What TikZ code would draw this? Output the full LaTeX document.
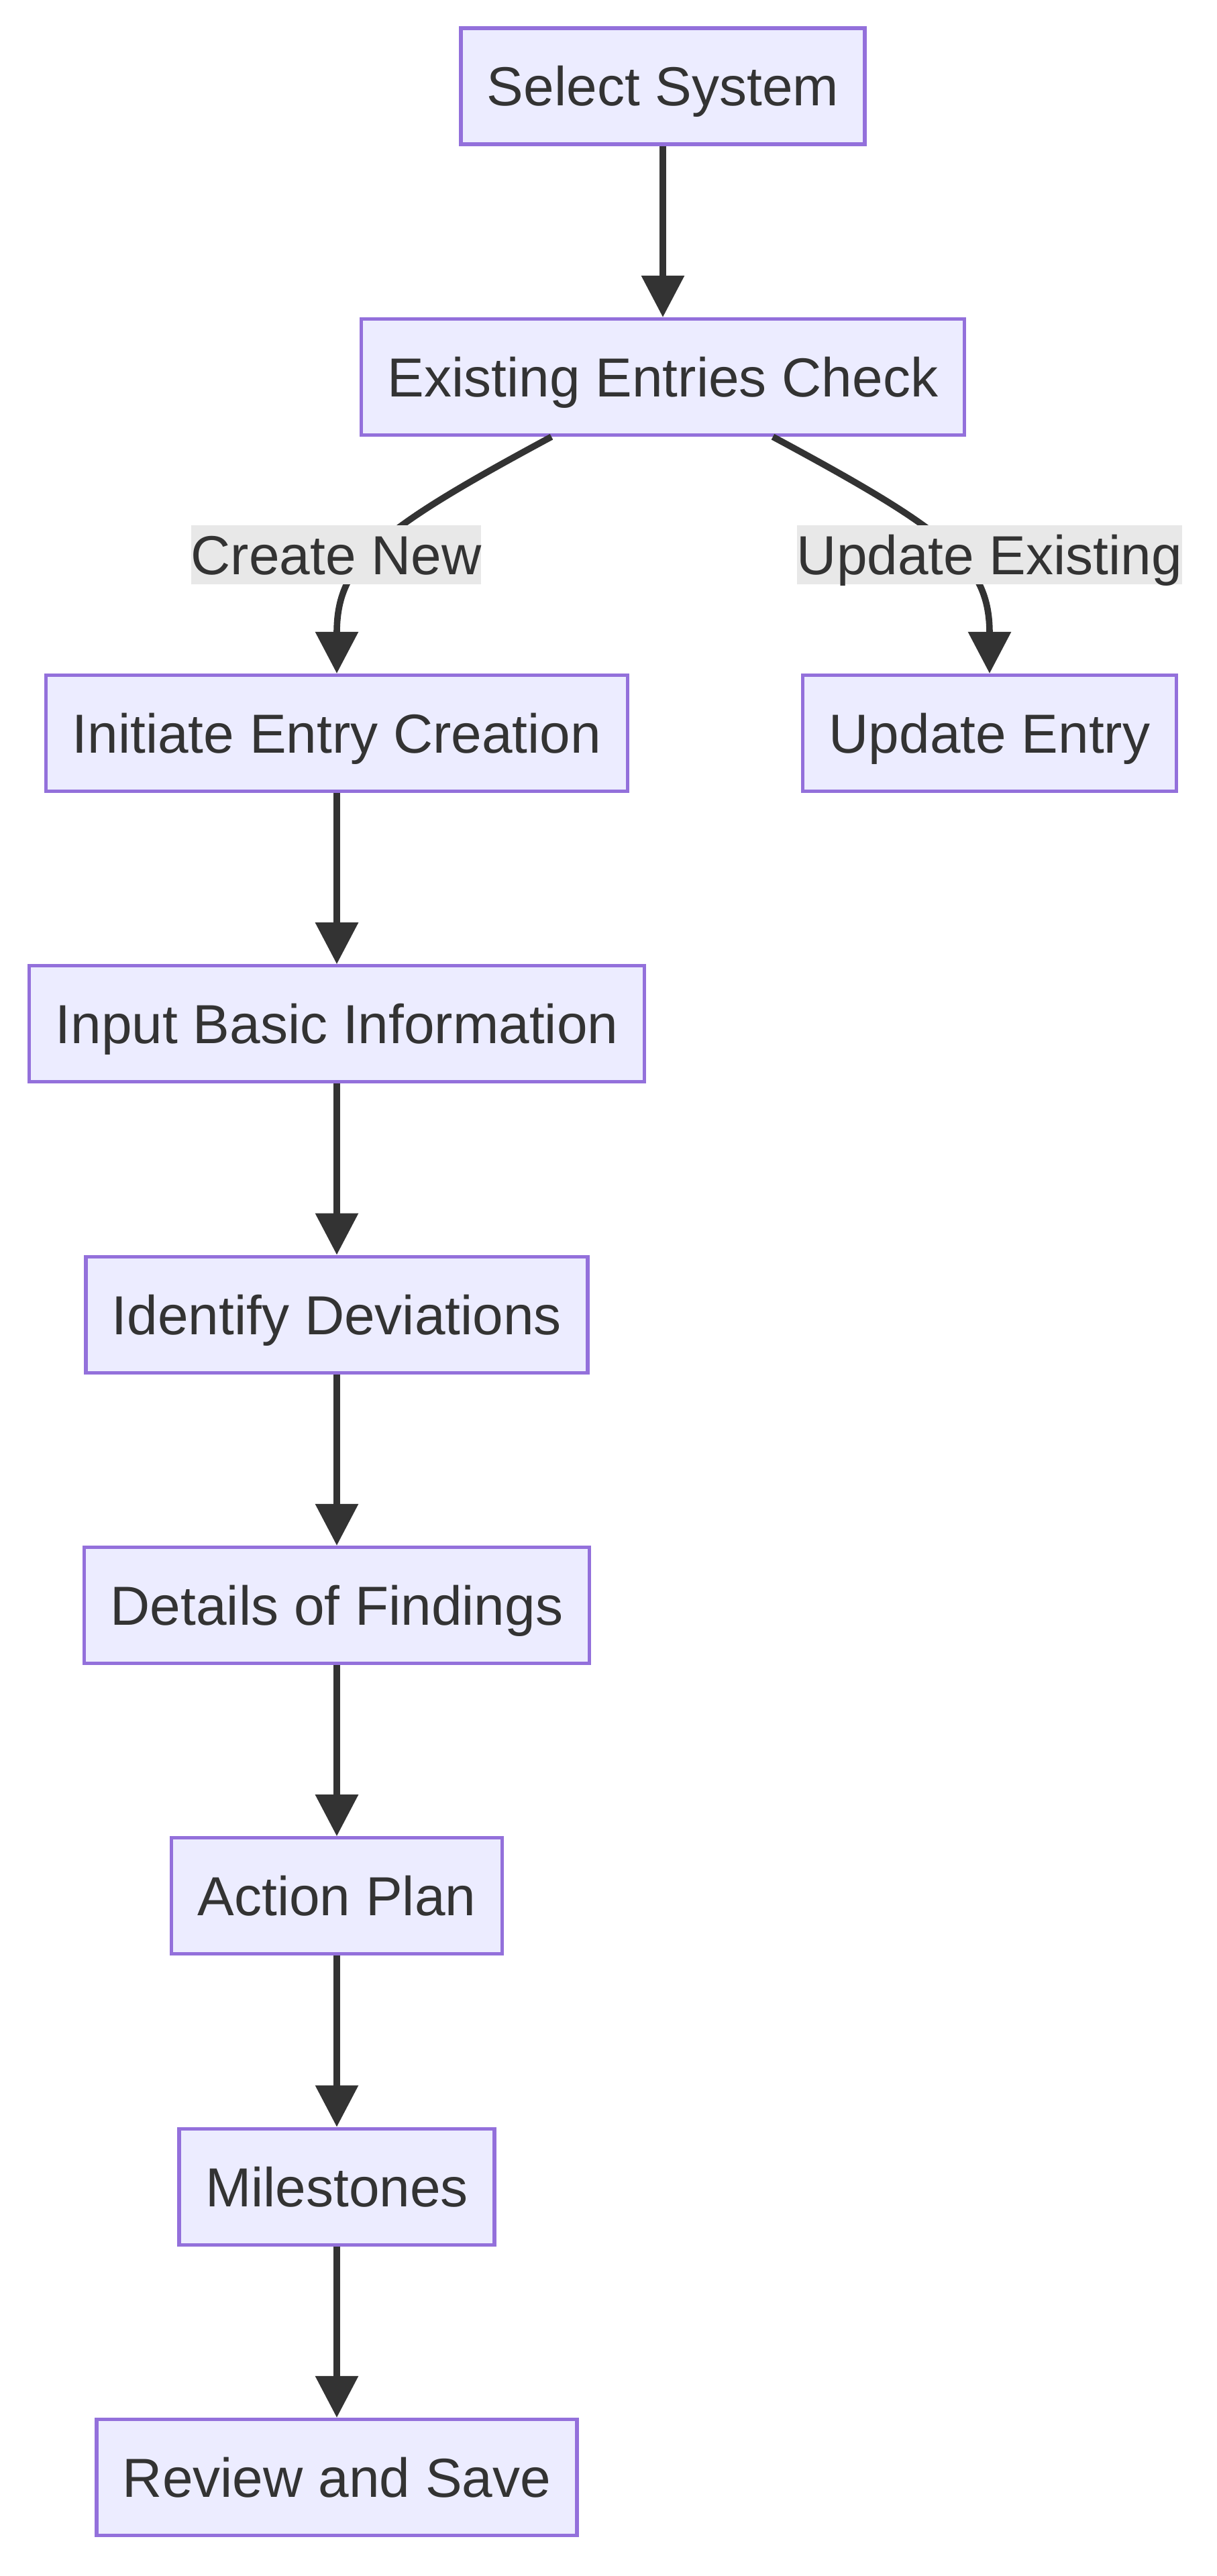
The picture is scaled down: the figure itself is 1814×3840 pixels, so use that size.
\documentclass[tikz,border=0pt]{standalone}
\usepackage{fontspec}
\setmainfont{Liberation Sans}
\usetikzlibrary{arrows.meta,calc}
\definecolor{nodefill}{HTML}{ECECFF}
\definecolor{nodeborder}{HTML}{9370DB}
\definecolor{ink}{HTML}{333333}
\definecolor{lblbg}{HTML}{E8E8E8}
\begin{document}
\begin{tikzpicture}[x=0.5pt,y=-0.5pt,
  box/.style={draw=nodeborder, fill=nodefill, line width=2.6pt, minimum height=86.5pt,
    inner xsep=19.5pt, inner ysep=0pt, text=ink, font=\fontsize{41}{49}\selectfont,
    text height=29.4pt, text depth=0pt},
  lbl/.style={fill=lblbg, inner xsep=0pt, inner ysep=0pt, minimum height=44pt,
    text=ink, font=\fontsize{41}{49}\selectfont, text height=29.4pt, text depth=0pt},
  edge/.style={draw=ink, line width=4.8pt, -{Triangle[length=31pt,width=31pt]}}]
\useasboundingbox (0,0) rectangle (1814,3840);
\fill[white] (0,0) rectangle (1814,3840);

\node[box] (sel) at (988,128.5) {Select System};
\node[box] (chk) at (988,562) {Existing Entries Check};
\node[box] (init) at (502,1093) {Initiate Entry Creation};
\node[box] (upd) at (1475,1093) {Update Entry};
\node[box] (inp) at (502,1526.3) {Input Basic Information};
\node[box] (idd) at (502,1959.7) {Identify Deviations};
\node[box] (det) at (502,2393) {Details of Findings};
\node[box] (act) at (502,2826.3) {Action Plan};
\node[box] (mil) at (502,3259.7) {Milestones};
\node[box] (rev) at (502,3693) {Review and Save};

\draw[edge] (sel) -- (chk);
\draw[edge] ([xshift=-83pt]chk.south) .. controls +(-262,141) and +(0,-164) .. (init.north);
\draw[edge] ([xshift=82pt]chk.south) .. controls +(262,141) and +(0,-164) .. (upd.north);
\node[lbl] (lcn) at (501,827) {Create New};
\node[lbl] (lue) at (1475,827) {Update Existing};

\draw[edge] (init) -- (inp);
\draw[edge] (inp) -- (idd);
\draw[edge] (idd) -- (det);
\draw[edge] (det) -- (act);
\draw[edge] (act) -- (mil);
\draw[edge] (mil) -- (rev);
\end{tikzpicture}
\end{document}
